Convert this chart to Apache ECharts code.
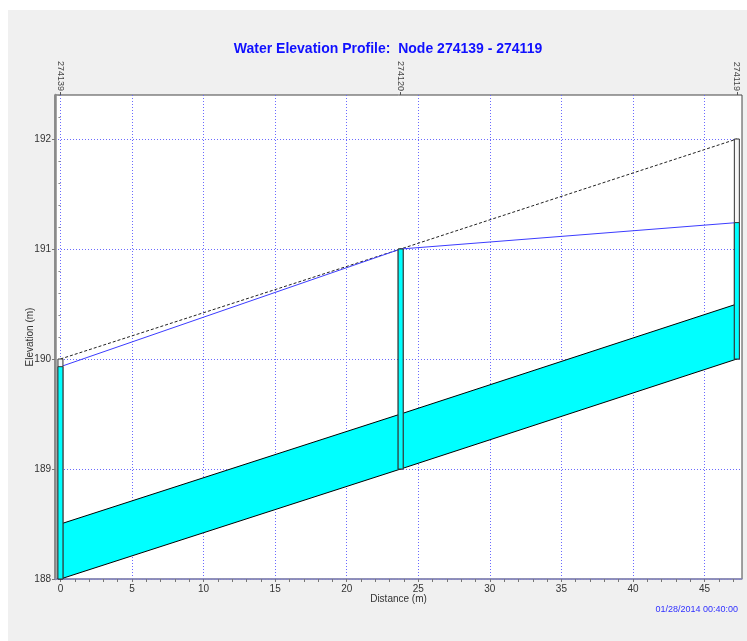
<!DOCTYPE html>
<html>
<head>
<meta charset="utf-8">
<script src="https://cdn.jsdelivr.net/npm/echarts@6/dist/echarts.min.js"></script>
<style>
  html, body { margin: 0; padding: 0; background: #ffffff; }
  #panel { position: absolute; left: 8px; top: 10px; width: 739px; height: 631px; background: #f0f0f0; }
  #chart { position: absolute; left: 0; top: 0; width: 747px; height: 641px; }
</style>
</head>
<body>
<div id="panel"></div>
<div id="chart"></div>
<script>
// Profile nodes (upstream -> downstream)
const nodeNames = ['274139', '274120', '274119'];
const nodeDistance = [0, 23.77, 47.26];        // m along the profile
const nodeInvert = [188.0, 189.0, 190.0];      // node bottom elevation (m)
const nodeRim = [190.0, 191.0, 192.0];         // node top / ground elevation (m)
const waterLevel = [189.93, 191.0, 191.24];    // water surface elevation (m)
const conduitCrown = [188.5, 189.5, 190.5];    // conduit top at each node (m)

// Conduits as pairs of node indices
const conduitFrom = [0, 1];
const conduitTo = [1, 2];

// Axis ticks
const xMajorTicks = [0, 5, 10, 15, 20, 25, 30, 35, 40, 45];
const xMinorTicks = [0, 1, 2, 3, 4, 5, 6, 7, 8, 9, 10, 11, 12, 13, 14, 15, 16, 17, 18, 19, 20,
  21, 22, 23, 24, 25, 26, 27, 28, 29, 30, 31, 32, 33, 34, 35, 36, 37, 38, 39, 40, 41, 42, 43, 44, 45, 46, 47];
const yMajorTicks = [188, 189, 190, 191, 192];
const yMinorTicks = [188.2, 188.4, 188.6, 188.8, 189.2, 189.4, 189.6, 189.8, 190.2, 190.4, 190.6, 190.8,
  191.2, 191.4, 191.6, 191.8, 192.2, 192.4];

const titleText = 'Water Elevation Profile:  Node 274139 - 274119';
const stampText = '01/28/2014 00:40:00';

const FONT = '"Liberation Sans", Arial, sans-serif';

const conduitData = conduitFrom.map((a, i) => {
  const b = conduitTo[i];
  return [nodeDistance[a], nodeInvert[a], conduitCrown[a], nodeDistance[b], nodeInvert[b], conduitCrown[b]];
});
const nodeData = nodeDistance.map((d, i) => [d, nodeInvert[i], nodeRim[i], waterLevel[i]]);
const waterData = nodeDistance.map((d, i) => [d, waterLevel[i]]);
const rimData = nodeDistance.map((d, i) => [d, nodeRim[i]]);

function renderConduit(params, api) {
  const p1 = api.coord([api.value(0), api.value(1)]);
  const p2 = api.coord([api.value(3), api.value(4)]);
  const p3 = api.coord([api.value(3), api.value(5)]);
  const p4 = api.coord([api.value(0), api.value(2)]);
  return {
    type: 'polygon',
    shape: { points: [p1, p2, p3, p4] },
    style: { fill: '#00ffff', stroke: '#000000', lineWidth: 1 }
  };
}

function renderNode(params, api) {
  const x = api.value(0), inv = api.value(1), rim = api.value(2), wl = api.value(3);
  const pBot = api.coord([x, inv]);
  const pRim = api.coord([x, rim]);
  const pWl = api.coord([x, Math.min(wl, rim)]);
  const w = 5;
  return {
    type: 'group',
    children: [
      { type: 'rect', shape: { x: pBot[0] - w / 2, y: pRim[1], width: w, height: pBot[1] - pRim[1] },
        style: { fill: '#f6f6f6', stroke: '#333333', lineWidth: 1 } },
      { type: 'rect', shape: { x: pBot[0] - w / 2, y: pWl[1], width: w, height: pBot[1] - pWl[1] },
        style: { fill: '#00ffff', stroke: '#333333', lineWidth: 1 } }
    ]
  };
}

const chart = echarts.init(document.getElementById('chart'), null, { renderer: 'canvas' });

const gridLine = { show: true, lineStyle: { color: '#6a6aff', type: [1, 2], width: 1 } };

chart.setOption({
  backgroundColor: 'transparent',
  animation: false,
  title: {
    text: titleText,
    left: 383, top: 37, textAlign: 'center',
    textStyle: { color: '#1010ff', fontSize: 14, fontWeight: 'bold', fontFamily: FONT }
  },
  grid: {
    left: 55, right: 5, top: 95, bottom: 62,
    show: true, backgroundColor: '#ffffff', borderColor: '#444444', borderWidth: 1
  },
  xAxis: [
    {
      type: 'value', position: 'bottom', min: -0.38, max: 47.62,
      name: 'Distance (m)', nameLocation: 'middle', nameGap: 15, nameMoveOverlap: false,
      nameTextStyle: { color: '#333333', fontSize: 10, fontFamily: FONT, verticalAlign: 'top' },
      axisLine: { show: true, onZero: false, lineStyle: { color: '#8c8cc0', width: 1.5 } },
      axisTick: { show: true, length: 3, customValues: xMajorTicks, lineStyle: { color: '#777777' } },
      axisLabel: { customValues: xMajorTicks, margin: 5, color: '#333333', fontSize: 10, fontFamily: FONT },
      splitLine: gridLine
    },
    {
      type: 'value', position: 'top', min: -0.38, max: 47.62,
      axisLine: { show: false },
      axisTick: { show: true, length: 3, customValues: nodeDistance, lineStyle: { color: '#555555' } },
      axisLabel: {
        customValues: nodeDistance, rotate: 90, margin: 4, color: '#444444', fontSize: 9, fontFamily: FONT,
        formatter: (v) => { const i = nodeDistance.indexOf(v); return i >= 0 ? nodeNames[i] : ''; }
      },
      splitLine: { show: false }
    },
    {
      type: 'value', position: 'bottom', min: -0.38, max: 47.62,
      axisLine: { show: false },
      axisTick: { show: true, length: 3, customValues: xMinorTicks, lineStyle: { color: '#777777' } },
      axisLabel: { show: false },
      splitLine: { show: false }
    }
  ],
  yAxis: [
    {
      type: 'value', min: 188, max: 192.4,
      name: 'Elevation (m)', nameLocation: 'middle', nameGap: 20, nameRotate: 90, nameMoveOverlap: false,
      nameTextStyle: { color: '#333333', fontSize: 10, fontFamily: FONT, verticalAlign: 'bottom' },
      axisLine: { show: true, onZero: false, lineStyle: { color: '#8a8a8a', width: 2.5 } },
      axisTick: { show: true, length: 3, customValues: yMajorTicks, lineStyle: { color: '#777777' } },
      axisLabel: { customValues: yMajorTicks, margin: 4, color: '#333333', fontSize: 10, fontFamily: FONT },
      splitLine: gridLine
    },
    {
      type: 'value', min: 188, max: 192.4, position: 'left',
      axisLine: { show: false },
      axisTick: { show: true, length: 2, customValues: yMinorTicks, lineStyle: { color: '#888888' } },
      axisLabel: { show: false },
      splitLine: { show: false }
    }
  ],
  graphic: [
    {
      type: 'text', right: 9, top: 605,
      style: { text: stampText, fill: '#3030ff', fontSize: 9, fontFamily: FONT }
    }
  ],
  series: [
    {
      type: 'custom', name: 'Conduits', renderItem: renderConduit, data: conduitData,
      encode: { x: [0, 3], y: [1, 2, 4, 5] }, z: 2, silent: true
    },
    {
      type: 'line', name: 'Ground', data: rimData, showSymbol: false, z: 3, silent: true,
      lineStyle: { color: '#222222', width: 1, type: [3, 2] }
    },
    {
      type: 'line', name: 'Water', data: waterData, showSymbol: false, z: 4, silent: true,
      lineStyle: { color: '#3c3cff', width: 1 }
    },
    {
      type: 'custom', name: 'Nodes', renderItem: renderNode, data: nodeData,
      encode: { x: 0, y: [1, 2, 3] }, z: 5, silent: true
    }
  ]
});
</script>
</body>
</html>
